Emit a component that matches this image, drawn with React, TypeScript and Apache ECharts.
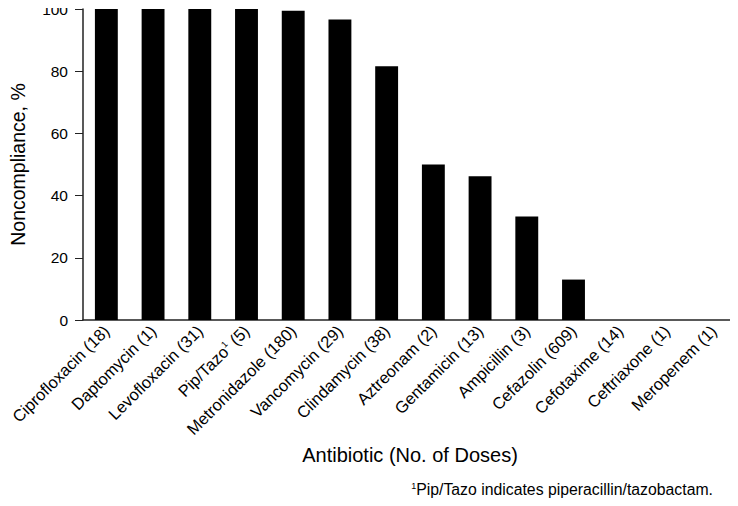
import React, { useEffect, useRef } from "react";
import * as echarts from "echarts";

const categories = [
  "Ciprofloxacin (18)",
  "Daptomycin (1)",
  "Levofloxacin (31)",
  "Pip/Tazo{sup|1} (5)",
  "Metronidazole (180)",
  "Vancomycin (29)",
  "Clindamycin (38)",
  "Aztreonam (2)",
  "Gentamicin (13)",
  "Ampicillin (3)",
  "Cefazolin (609)",
  "Cefotaxime (14)",
  "Ceftriaxone (1)",
  "Meropenem (1)",
];
const values = [100, 100, 100, 100, 99.4, 96.6, 81.6, 50, 46.2, 33.3, 13.0, 0, 0, 0];
const yTicks = [0, 20, 40, 60, 80, 100];

const FONT = "Liberation Sans, Arial, sans-serif";

export default function App() {
  const ref = useRef<HTMLDivElement>(null);
  useEffect(() => {
    const chart = echarts.init(ref.current!, null, { renderer: "svg" });
    chart.setOption({
      animation: false,
      backgroundColor: "#fff",
      grid: { left: 78, right: 1, top: 9, bottom: 186, containLabel: false },
      xAxis: {
        type: "category",
        data: categories,
        axisLine: { show: true, lineStyle: { color: "#222", width: 1.5 } },
        axisTick: { show: false },
        axisLabel: {
          interval: 0,
          rotate: 45,
          margin: 8,
          color: "#000",
          fontFamily: FONT,
          fontSize: 16.5,
          rich: {
            sup: { fontSize: 9, verticalAlign: "top", color: "#000", fontFamily: FONT, padding: [0, 0, 7, 0] },
          },
        },
        name: "Antibiotic (No. of Doses)",
        nameLocation: "middle",
        nameGap: 124,
        nameTextStyle: { color: "#000", fontFamily: FONT, fontSize: 20 },
      },
      yAxis: {
        type: "value",
        min: 0,
        max: 100,
        interval: 20,
        splitLine: { show: false },
        axisLine: { show: true, lineStyle: { color: "#222", width: 1.5 } },
        axisTick: { show: true, length: 8, lineStyle: { color: "#222" } },
        axisLabel: {
          color: "#000",
          fontFamily: FONT,
          fontSize: 15.5,
          margin: 15,
          formatter: (v: number) => (yTicks.includes(v) ? String(v) : ""),
        },
        name: "Noncompliance, %",
        nameLocation: "middle",
        nameGap: 55,
        nameTextStyle: { color: "#000", fontFamily: FONT, fontSize: 19.5 },
      },
      series: [
        {
          type: "bar",
          data: values,
          barWidth: "49%",
          itemStyle: { color: "#000" },
        },
      ],
      graphic: [
        {
          type: "text",
          right: 25,
          top: 481,
          style: {
            text: "{sup|1}Pip/Tazo indicates piperacillin/tazobactam.",
            fill: "#000",
            fontFamily: FONT,
            fontSize: 15.8,
            rich: {
              sup: { fontSize: 9, verticalAlign: "top", fill: "#000", fontFamily: FONT, padding: [0, 0, 6, 0] },
            },
          },
        },
      ],
    });
    return () => chart.dispose();
  }, []);
  return <div ref={ref} style={{ width: 738, height: 506, margin: -8 }} />;
}
